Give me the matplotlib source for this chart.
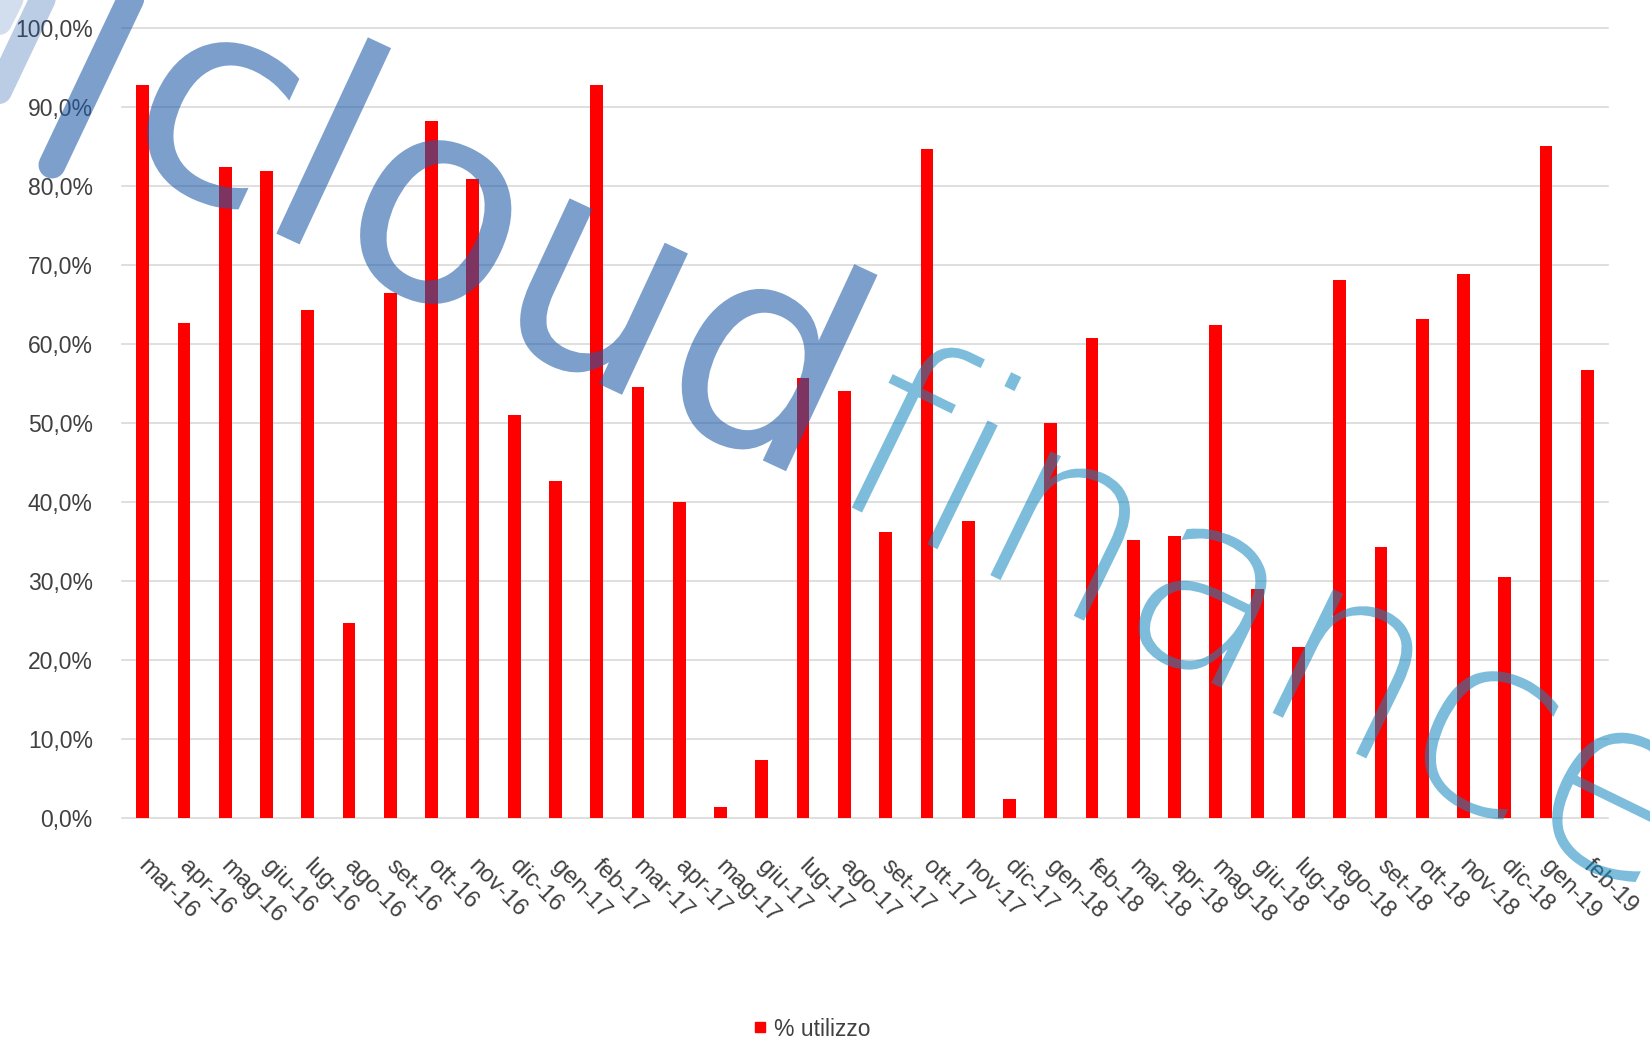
import matplotlib
matplotlib.use('Agg')
import matplotlib.pyplot as plt
import matplotlib.ticker as ticker
from matplotlib.textpath import TextPath
from matplotlib.patches import PathPatch
from matplotlib.font_manager import FontProperties
from matplotlib.transforms import Affine2D, ScaledTranslation, IdentityTransform
from matplotlib.lines import Line2D

mesi = ['mar-16', 'apr-16', 'mag-16', 'giu-16', 'lug-16', 'ago-16', 'set-16', 'ott-16',
        'nov-16', 'dic-16', 'gen-17', 'feb-17', 'mar-17', 'apr-17', 'mag-17', 'giu-17',
        'lug-17', 'ago-17', 'set-17', 'ott-17', 'nov-17', 'dic-17', 'gen-18', 'feb-18',
        'mar-18', 'apr-18', 'mag-18', 'giu-18', 'lug-18', 'ago-18', 'set-18', 'ott-18',
        'nov-18', 'dic-18', 'gen-19', 'feb-19']
utilizzo = [92.8, 62.6, 82.3, 81.8, 64.2, 24.6, 66.4, 88.2,
            80.9, 51.0, 42.6, 92.8, 54.5, 39.9, 1.3, 7.3,
            55.6, 54.0, 36.1, 84.7, 37.5, 2.4, 49.9, 60.7,
            35.1, 35.6, 62.3, 28.9, 21.6, 68.0, 34.3, 63.1,
            68.8, 30.5, 85.0, 56.7]

W, H = 1650, 1041
plt.rcParams['font.family'] = ['Liberation Sans', 'DejaVu Sans']
fig = plt.figure(figsize=(W / 100, H / 100), dpi=100)
ax = fig.add_axes([122 / W, 1 - 817.5 / H, (1608 - 122) / W, (817.5 - 27.7) / H])

x = list(range(len(mesi)))
ax.bar(x, utilizzo, width=0.31, color='#ff0000', zorder=3, label='% utilizzo')
ax.set_xlim(-0.5, len(mesi) - 0.5)
ax.set_ylim(0, 100)
ax.set_yticks(range(0, 101, 10))
ax.yaxis.set_major_formatter(ticker.FuncFormatter(lambda v, p: f'{v:.1f}%'.replace('.', ',')))
ax.grid(axis='y', color='#d9d9d9', lw=1.2)
ax.set_axisbelow(True)
for gl in ax.get_ygridlines():
    gl.set_clip_on(False)
for s in ax.spines.values():
    s.set_visible(False)
ax.tick_params(length=0, labelsize=16.5, labelcolor='#404040')
ax.tick_params(axis='y', pad=21)
ax.tick_params(axis='x', pad=27, labelsize=17)
ax.set_xticks(x)
ax.set_xticklabels(mesi, rotation=-45, ha='left', va='top', rotation_mode='anchor')
shift = ScaledTranslation(5 / 72, 0, fig.dpi_scale_trans)
for lab in ax.get_xticklabels():
    lab.set_transform(lab.get_transform() + shift)

# legenda in basso
h = [Line2D([], [], marker='s', color='#ff0000', ls='none', markersize=7.5)]
fig.legend(h, ['% utilizzo'], loc='center', bbox_to_anchor=(811 / W, 12 / H),
           frameon=False, fontsize=16.5, handletextpad=0.2, handlelength=0.8,
           labelcolor='#404040')

# watermark "cloudfinance"
def marchio(testo, size, ang, x0, y0, colore, alpha, weight='normal'):
    tp = TextPath((0, 0), testo, size=size,
                  prop=FontProperties(family='DejaVu Sans', weight=weight))
    tr = Affine2D().rotate_deg(ang).translate(x0, H - y0)
    fig.add_artist(PathPatch(tp, transform=tr, facecolor=colore, edgecolor='none',
                             alpha=alpha, zorder=5))

def barra(x1, y1, x2, y2, lw, colore, alpha):
    fig.add_artist(Line2D([x1, x2], [H - y1, H - y2], transform=IdentityTransform(),
                          lw=lw * 0.72, color=colore, alpha=alpha,
                          solid_capstyle='round', zorder=5))

blu = '#1f5aa8'
barra(15, -10, -20, 60, 26, blu, 0.2)
barra(47, -10, -10, 110, 26, blu, 0.3)
barra(135, -10, 52, 165, 27, blu, 0.58)
marchio('cloud', 285, -25, 110, 156, blu, 0.58)
marchio('finance', 252, -26, 822, 493, '#1288bf', 0.55, weight='light')

fig.savefig('out.png', dpi=100)
